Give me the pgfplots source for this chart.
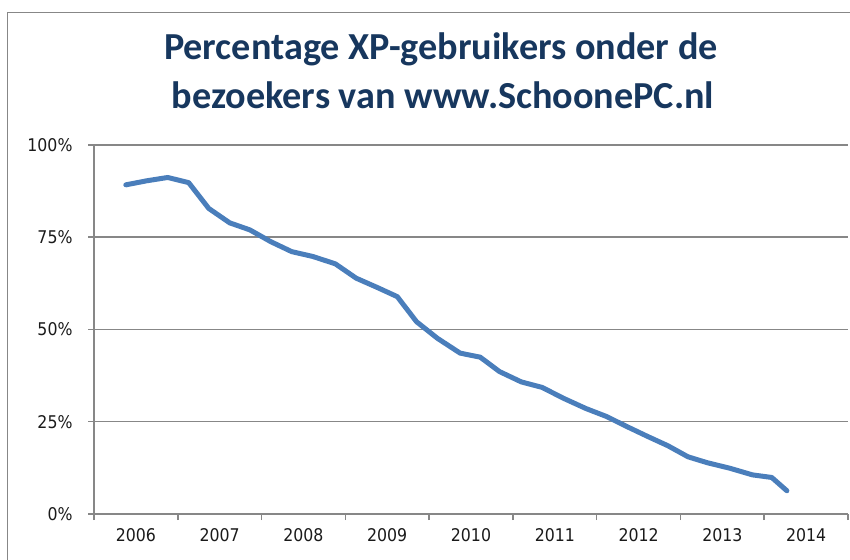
\documentclass[border=0pt]{standalone}
\usepackage{fontspec}
\usepackage{pgfplots}
\pgfplotsset{compat=1.18}
\newfontfamily\tickfont{DejaVu Sans Condensed}
\newfontfamily\titlefont{Carlito}
\definecolor{linblue}{HTML}{4A7EBB}
\definecolor{gridgray}{HTML}{878787}
\definecolor{titleblue}{HTML}{17375E}
\definecolor{labelcol}{HTML}{1A1A1A}
\begin{document}
\begin{tikzpicture}[x=1pt,y=1pt]
\path[use as bounding box] (0,0) rectangle (850,559);
% outer chart border
\draw[gridgray, line width=1.5pt] (7.5,-10) -- (7.5,546.5) -- (870,546.5);
% title
\node[anchor=base, text=titleblue, inner sep=0pt] at (441,499.7)
  {\titlefont\bfseries\fontsize{38.2}{40}\selectfont Percentage XP-gebruikers onder de};
\node[anchor=base, text=titleblue, inner sep=0pt] at (443,450.7)
  {\titlefont\bfseries\fontsize{38.2}{40}\selectfont bezoekers van www.SchoonePC.nl};
\begin{axis}[
  at={(94pt,45pt)}, anchor=south west,
  scale only axis, width=754pt, height=369pt,
  xmin=2006, xmax=2015, ymin=0, ymax=100,
  axis x line=bottom, axis y line=left,
  axis line style={-, draw=gridgray, line width=1.5pt},
  xtick={2006,2007,2008,2009,2010,2011,2012,2013,2014,2015},
  x tick label as interval,
  xticklabels={2006,2007,2008,2009,2010,2011,2012,2013,2014},
  ytick={0,25,50,75,100},
  yticklabels={0\%,25\%,50\%,75\%,100\%},
  tick align=outside, major tick length=6pt,
  tick style={draw=gridgray, line width=1.5pt},
  ymajorgrids, grid style={draw=gridgray, line width=1.5pt},
  ticklabel style={font=\tickfont\fontsize{17.5}{20}\selectfont, text=labelcol},
  yticklabel style={xshift=-12pt},
  xticklabel style={yshift=-5pt},
  clip=false,
]
\addplot[linblue, line width=5pt, line join=round, line cap=round] table[x=x, y=y] {
x y
2006.38 89.2
2006.63 90.3
2006.88 91.2
2007.13 89.8
2007.37 82.8
2007.62 78.9
2007.86 77.0
2008.11 73.8
2008.36 71.1
2008.61 69.8
2008.88 67.8
2009.13 63.9
2009.38 61.4
2009.62 58.9
2009.85 52.1
2010.10 47.6
2010.37 43.6
2010.61 42.5
2010.84 38.6
2011.10 35.8
2011.35 34.3
2011.60 31.4
2011.87 28.6
2012.12 26.4
2012.36 23.7
2012.61 21.0
2012.85 18.5
2013.09 15.5
2013.32 13.9
2013.59 12.4
2013.86 10.6
2014.09 9.9
2014.27 6.3
};
\end{axis}
\end{tikzpicture}
\end{document}
